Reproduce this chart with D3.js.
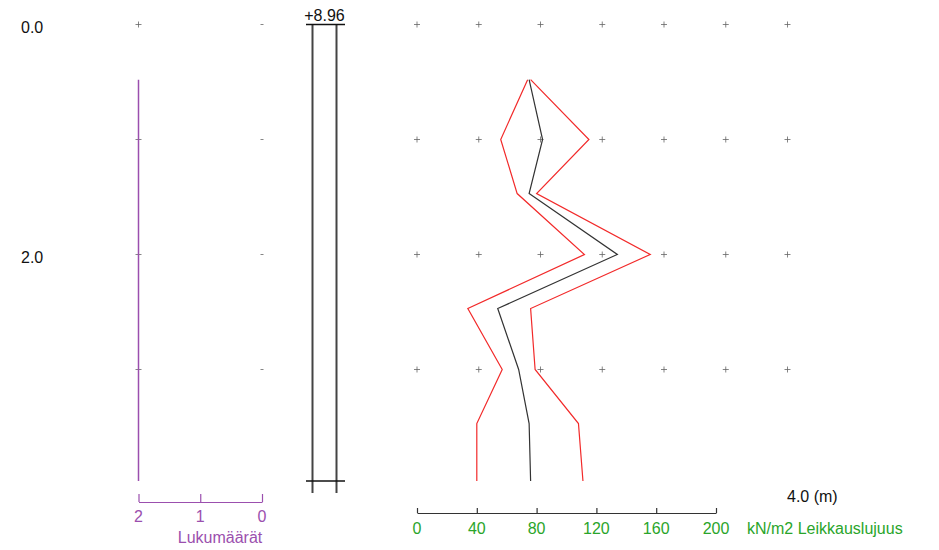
<!DOCTYPE html>
<html><head><meta charset="utf-8">
<script src="https://cdn.jsdelivr.net/npm/d3@7"></script>
<style>body{margin:0;background:#fff}svg{display:block}text{font-family:"Liberation Sans",Arial,sans-serif;font-size:16px}</style>
</head><body>
<script>
// ---- data ----
const depthTicks = [0, 1, 2, 3];
const depthLabels = ["0.0", "", "2.0", ""];
const depths = [0.48, 1.0, 1.47, 2.0, 2.47, 3.0, 3.47, 3.97];
const strengthMean = [75, 84, 75, 134, 54, 68, 75, 76];
const strengthLow = [74, 56, 67, 112, 34, 57, 40, 40];
const strengthHigh = [76, 115, 80, 156, 76, 79, 108, 111];
const strengthTicks = [0, 40, 80, 120, 160, 200];
const countDepths = [0.48, 3.97];
const countValues = [2, 2];
const countTicks = [2, 1, 0];
const groundLevel = "+8.96";
const bottomDepth = 3.97;
const bottomLabel = "4.0 (m)";
const strengthTitle = "kN/m2 Leikkauslujuus";
const countTitle = "Lukumäärät";
const gridCols = [0, 1, 2, 3, 4, 5, 6];

const W = 939, H = 550;
const svg = d3.select("body").append("svg").attr("width", W).attr("height", H);

const y = d3.scaleLinear().domain([0, 3]).range([24.5, 369.5]);
const x = d3.scaleLinear().domain([0, 200]).range([417, 716]);
const gx = d3.scaleLinear().domain([0, 6]).range([417, 787.5]);
const cx = d3.scaleLinear().domain([2, 0]).range([138.5, 262]);
const purple = "#9b4fae", green = "#2aa52a", red = "#f22a2a";

// depth labels
svg.selectAll("text.dl").data(depthTicks.filter((d, i) => depthLabels[i])).join("text")
  .attr("x", 21).attr("y", d => y(d) + 8.5).attr("fill", "#111")
  .text(d => depthLabels[depthTicks.indexOf(d)]);

// crosses helper
function cross(g, px, py, armX, armY) {
  g.append("line").attr("x1", px - armX).attr("x2", px + armX).attr("y1", py).attr("y2", py);
  if (armY) g.append("line").attr("x1", px).attr("x2", px).attr("y1", py - armY).attr("y2", py + armY);
}
const grid = svg.append("g").attr("stroke", "#666").attr("stroke-width", 0.8);
depthTicks.forEach(d => {
  gridCols.forEach(c => cross(grid, gx(c), y(d), 3, 3));
  cross(grid, cx(2), y(d), 3, 3);
  cross(grid, cx(0), y(d), 1.5, 0);
});

// count line
svg.append("path").datum(countDepths.map((d, i) => [countValues[i], d]))
  .attr("d", d3.line().x(d => cx(d[0])).y(d => y(d[1])))
  .attr("stroke", purple).attr("stroke-width", 1.5).attr("fill", "none");

// count axis
const cAxis = svg.append("g").attr("transform", "translate(0,502)")
  .call(d3.axisBottom(cx).tickValues(countTicks).tickSize(0).tickPadding(0).tickFormat(""));
cAxis.select(".domain").attr("stroke", purple).attr("stroke-width", 1.2);
cAxis.selectAll(".tick line").attr("y2", -8).attr("stroke", purple).attr("stroke-width", 1.2);
svg.selectAll("text.ct").data(countTicks).join("text").attr("class", "ct")
  .attr("x", d => cx(d)).attr("y", 522).attr("text-anchor", "middle").attr("fill", purple).text(d => d);
svg.append("text").attr("x", 220).attr("y", 543).attr("text-anchor", "middle").attr("fill", purple).text(countTitle);

// borehole column
const colL = 312.5, colR = 336.5;
const col = svg.append("g").attr("stroke", "#444").attr("stroke-width", 2);
[colL, colR].forEach(px => col.append("line").attr("x1", px).attr("x2", px).attr("y1", y(0)).attr("y2", y(bottomDepth) + 12));
col.append("line").attr("x1", 306).attr("x2", 345).attr("y1", y(0)).attr("y2", y(0)).attr("stroke", "#111").attr("stroke-width", 1.5);
col.append("line").attr("x1", 306).attr("x2", 345).attr("y1", y(bottomDepth)).attr("y2", y(bottomDepth)).attr("stroke", "#111").attr("stroke-width", 1.5);
svg.append("text").attr("x", 324.5).attr("y", 21).attr("text-anchor", "middle").attr("fill", "#111").text(groundLevel);

// strength lines
const line = d3.line().x(d => x(d[0])).y(d => y(d[1]));
[[strengthLow, red], [strengthHigh, red], [strengthMean, "#333"]].forEach(([vals, c]) => {
  svg.append("path").datum(vals.map((v, i) => [v, depths[i]])).attr("d", line)
    .attr("fill", "none").attr("stroke", c).attr("stroke-width", 1.2);
});

// strength axis
const sAxis = svg.append("g").attr("transform", "translate(0,513)")
  .call(d3.axisBottom(x).tickValues(strengthTicks).tickSize(0).tickFormat(""));
sAxis.select(".domain").attr("stroke", "#333").attr("stroke-width", 1.2);
sAxis.selectAll(".tick line").attr("y2", -5).attr("stroke", "#333").attr("stroke-width", 1.2);
svg.selectAll("text.st").data(strengthTicks).join("text").attr("class", "st")
  .attr("x", d => x(d)).attr("y", 534).attr("text-anchor", "middle").attr("fill", green).text(d => d);
svg.append("text").attr("x", 747).attr("y", 534).attr("fill", green).text(strengthTitle);
svg.append("text").attr("x", 787).attr("y", 501.5).attr("fill", "#111").text(bottomLabel);
</script>
</body></html>
